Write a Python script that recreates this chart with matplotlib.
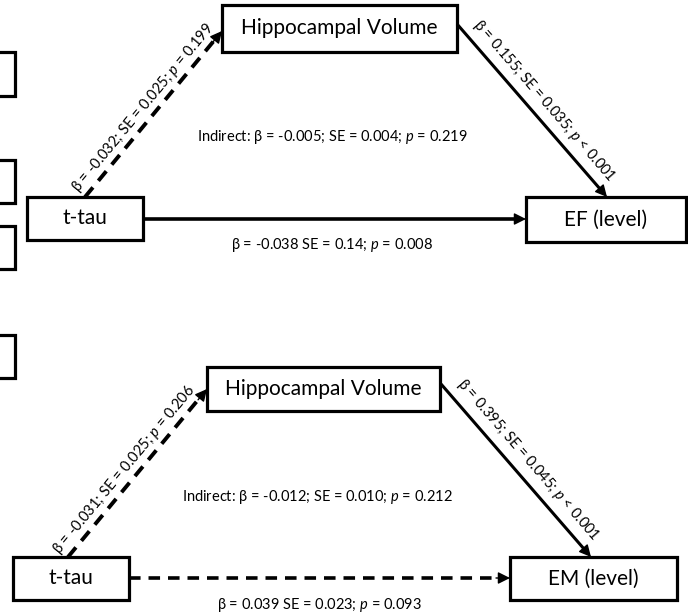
import math
import matplotlib
matplotlib.use('Agg')
import matplotlib.pyplot as plt
from matplotlib.patches import Rectangle

plt.rcParams['font.family'] = ['Lato', 'DejaVu Sans']
plt.rcParams['mathtext.fontset'] = 'custom'
plt.rcParams['mathtext.rm'] = 'Lato'
plt.rcParams['mathtext.it'] = 'Lato:italic'
plt.rcParams['mathtext.fallback'] = 'stixsans'

# ---------------- data ----------------
x_labels = ["t-tau", "t-tau"]
m_labels = ["Hippocampal Volume", "Hippocampal Volume"]
y_labels = ["EF (level)", "EM (level)"]

a_beta = ["-0.032", "-0.031"]
a_se = ["0.025", "0.025"]
a_p = ["= 0.199", "= 0.206"]

b_beta = ["0.155", "0.395"]
b_se = ["0.035", "0.045"]
b_p = ["< 0.001", "< 0.001"]

c_beta = ["-0.038", "0.039"]
c_se = ["0.14", "0.023"]
c_p = ["0.008", "0.093"]

ind_beta = ["-0.005", "-0.012"]
ind_se = ["0.004", "0.010"]
ind_p = ["0.219", "0.212"]

a_sig = [False, False]
b_sig = [True, True]
c_sig = [True, False]

# ---------------- layout (pixels) ----------------
W, H = 688, 614
x_box = [(27, 197, 143, 240), (13, 557, 129, 600)]
m_box = [(222, 5, 457, 52), (207, 367, 440, 411)]
y_box = [(526, 197, 686, 242), (510, 557, 677, 600)]
a_line = [((85, 197), (222, 31)), ((68, 557), (207, 389))]
b_line = [((457, 24), (607, 197)), ((441, 384), (591, 557))]
c_line = [((143, 219), (526, 219)), ((129, 578), (510, 578))]
a_lab_pos = [(143, 108), (124, 470)]
b_lab_pos = [(544, 101), (528, 460)]
ind_pos = [(332, 137), (317, 497)]
c_pos = [(332, 245), (319, 605)]
partial_boxes = [(52, 96), (160, 203), (226, 269), (335, 378)]

fig = plt.figure(figsize=(W / 100, H / 100), dpi=100)
ax = fig.add_axes([0, 0, 1, 1])
ax.set_xlim(0, W)
ax.set_ylim(H, 0)
ax.axis('off')

BOX_LW = 2.3
BOX_FS = 15
LAB_FS = 10.5


def box(b, text):
    x0, y0, x1, y1 = b
    ax.add_patch(Rectangle((x0, y0), x1 - x0, y1 - y0, fill=False,
                           lw=BOX_LW, ec='black', zorder=3))
    if text:
        ax.text((x0 + x1) / 2, (y0 + y1) / 2, text, ha='center', va='center',
                fontsize=BOX_FS, zorder=4)


def arrow(p0, p1, sig, lw):
    (x0, y0), (x1, y1) = p0, p1
    L = math.hypot(x1 - x0, y1 - y0)
    ux, uy = (x1 - x0) / L, (y1 - y0) / L
    head = 12
    if sig:
        ax.plot([x0, x1 - ux * head * 0.5], [y0, y1 - uy * head * 0.5],
                color='black', lw=lw, solid_capstyle='butt', zorder=2)
    else:
        ax.plot([x0, x1 - ux * head], [y0, y1 - uy * head], color='black',
                lw=lw, linestyle=(0, (3.2, 2.2)), dash_capstyle='butt', zorder=2)
    ax.annotate('', xy=(x1, y1), xytext=(x1 - ux * (head + 2), y1 - uy * (head + 2)),
                arrowprops=dict(arrowstyle='-|>', color='black', lw=1,
                                mutation_scale=18, shrinkA=0, shrinkB=0),
                zorder=3)


def angle(p0, p1):
    (x0, y0), (x1, y1) = p0, p1
    return math.degrees(math.atan2(-(y1 - y0), x1 - x0))


for i in range(2):
    box(x_box[i], x_labels[i])
    box(m_box[i], m_labels[i])
    box(y_box[i], y_labels[i])

    arrow(*a_line[i], a_sig[i], 2.8)
    arrow(*b_line[i], b_sig[i], 2.2)
    arrow(*c_line[i], c_sig[i], 2.6)

    ang_a = angle(*a_line[i])
    ax.text(*a_lab_pos[i],
            f"β = {a_beta[i]}; SE = {a_se[i]}; $p$ {a_p[i]}",
            rotation=ang_a, rotation_mode='anchor', ha='center', va='center',
            fontsize=LAB_FS)
    ang_b = angle(*b_line[i])
    ax.text(*b_lab_pos[i],
            f"β = {b_beta[i]}; SE = {b_se[i]}; $p$ {b_p[i]}",
            rotation=ang_b, rotation_mode='anchor', ha='center', va='center',
            fontsize=LAB_FS)
    ax.text(*ind_pos[i],
            f"Indirect: β = {ind_beta[i]}; SE = {ind_se[i]}; $p$ = {ind_p[i]}",
            ha='center', va='center', fontsize=LAB_FS)
    ax.text(*c_pos[i],
            f"β = {c_beta[i]} SE = {c_se[i]}; $p$ = {c_p[i]}",
            ha='center', va='center', fontsize=LAB_FS)

for (y0, y1) in partial_boxes:
    box((-20, y0, 15, y1), None)

fig.savefig('out.png', dpi=100, facecolor='white')
